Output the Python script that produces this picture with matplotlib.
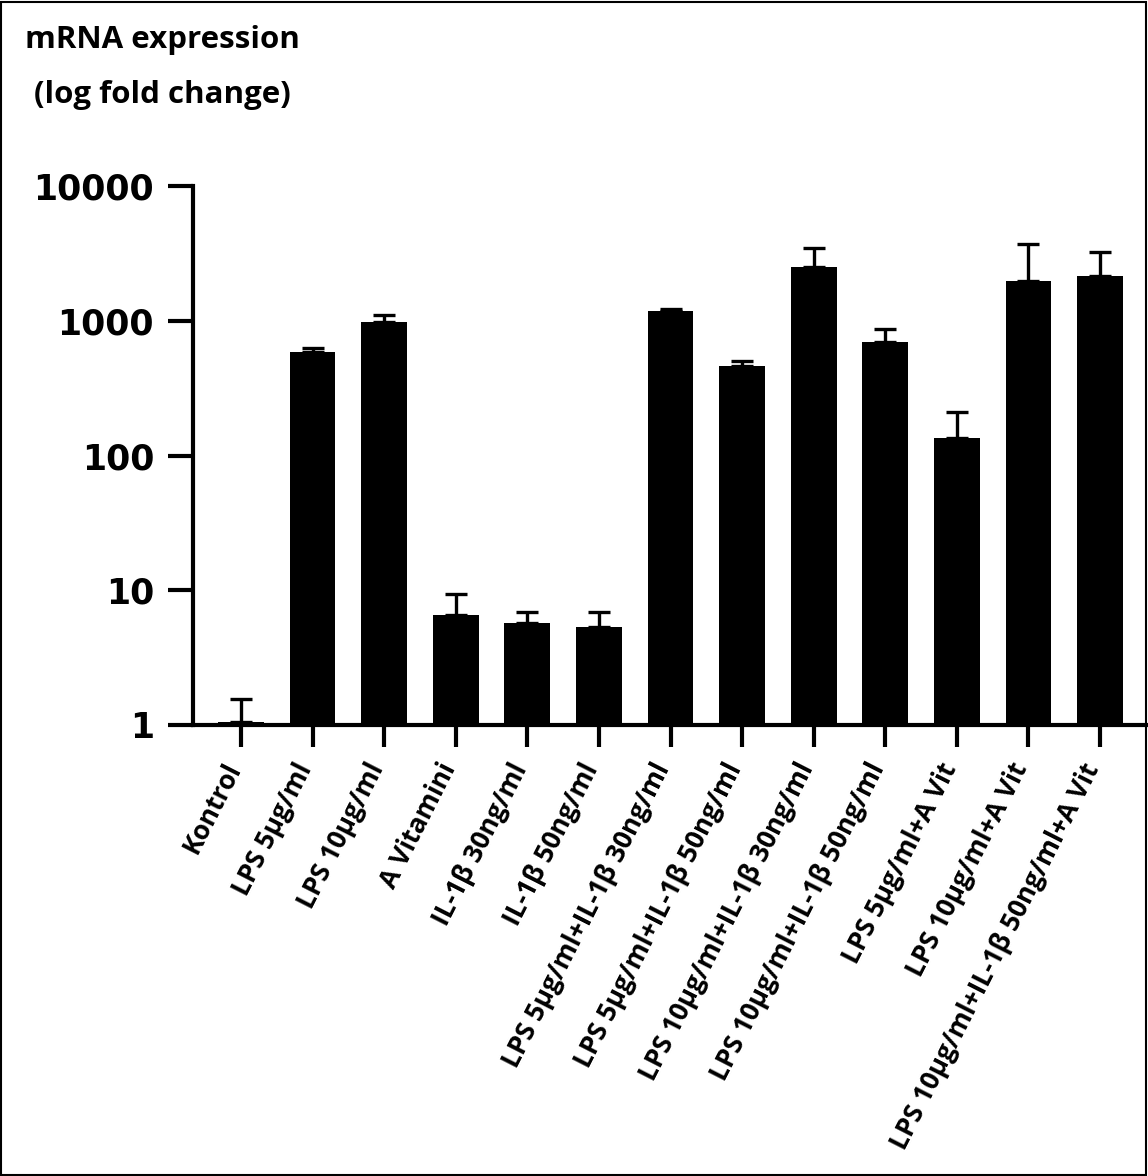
import numpy as np
import matplotlib.pyplot as plt
from matplotlib.patches import Rectangle

groups = ["Kontrol", "LPS 5µg/ml", "LPS 10µg/ml", "A Vitamini",
          "IL-1β 30ng/ml", "IL-1β 50ng/ml",
          "LPS 5µg/ml+IL-1β 30ng/ml", "LPS 5µg/ml+IL-1β 50ng/ml",
          "LPS 10µg/ml+IL-1β 30ng/ml", "LPS 10µg/ml+IL-1β 50ng/ml",
          "LPS 5µg/ml+A Vit", "LPS 10µg/ml+A Vit",
          "LPS 10µg/ml+IL-1β 50ng/ml+A Vit"]
expression = [1.05, 590, 985, 6.6, 5.7, 5.3, 1190, 465, 2510, 690, 136, 1980, 2150]
err_upper = [0.5, 40, 125, 2.7, 1.2, 1.6, 40, 35, 960, 185, 76, 1740, 1090]
yticks = [1, 10, 100, 1000, 10000]

fig = plt.figure(figsize=(11.48, 11.76), dpi=100)
ax = fig.add_axes([193/1148, 1 - 725/1176, 1 - 193/1148, (725 - 186)/1176])

x = np.arange(len(groups))
ax.bar(x, expression, width=0.64, color='black')
ax.errorbar(x, expression, yerr=[np.zeros(len(x)), err_upper], fmt='none',
            ecolor='black', elinewidth=2.4, capsize=8, capthick=2.4)

ax.set_yscale('log')
ax.set_ylim(1, 10000)
ax.set_xlim(-0.67, len(groups) - 0.33)
ax.set_yticks(yticks)
ax.set_yticklabels([str(v) for v in yticks], fontfamily='DejaVu Sans',
                   fontweight='bold', fontsize=25)
ax.minorticks_off()
ax.set_xticks(x)
ax.set_xticklabels(groups, rotation=63, ha='right', va='baseline',
                   rotation_mode='anchor', fontfamily='Open Sans',
                   fontweight='bold', fontsize=19)

for side in ['top', 'right']:
    ax.spines[side].set_visible(False)
for side in ['left', 'bottom']:
    ax.spines[side].set_linewidth(3)
ax.tick_params(axis='y', length=18, width=3, pad=10)
ax.tick_params(axis='x', length=16, width=3, pad=15)

fig.text(25/1148, 1 - 25/1176, "mRNA expression", fontfamily='Open Sans',
         fontweight='bold', fontsize=22.5, va='top', ha='left')
fig.text(34/1148, 1 - 80/1176, "(log fold change)", fontfamily='Open Sans',
         fontweight='bold', fontsize=22.5, va='top', ha='left')

fig.patches.append(Rectangle((0.001, 0.001), 0.997, 0.997, transform=fig.transFigure,
                             fill=False, edgecolor='black', linewidth=1.5))

fig.savefig('out.png', dpi=100)
